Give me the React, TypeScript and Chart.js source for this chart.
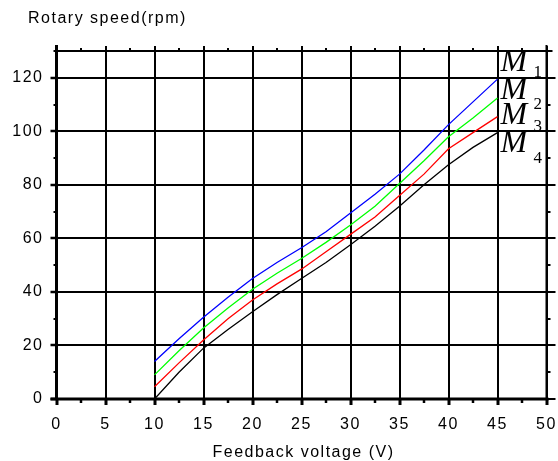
import React, { useEffect, useRef } from "react";
import { Chart, registerables } from "chart.js";

Chart.register(...registerables);

// ---- data ----
const voltage = [10, 12.5, 15, 17.5, 20, 22.5, 25, 27.5, 30, 32.5, 35, 37.5, 40, 42.5, 45];
const speedM1 = [14, 22.5, 30.5, 38, 45, 51, 56.5, 62.5, 69.5, 76.5, 84, 93, 102.5, 111, 119.5];
const speedM2 = [9, 18, 26.5, 34, 41, 47, 52.5, 58.5, 65, 72, 80.5, 89, 98, 105, 112.4];
const speedM3 = [4.6, 13.5, 22, 30, 37, 43, 48.5, 55, 61.5, 68, 76, 84, 93.5, 99.5, 105.5];
const speedM4 = [0, 10, 19, 26, 32.6, 39, 45, 51, 57.6, 64.5, 72, 80, 87.5, 94, 99.5];
const seriesSubs = ["1", "2", "3", "4"];
const seriesColors = ["#0000ff", "#00ff00", "#ff0000", "#000000"];
const labelBaseY = [122.7, 111.9, 102.9, 92.1];
const subBaseY = [120.4, 108.3, 100.1, 88.3];
const xTitle = "Feedback voltage (V)";
const yTitle = "Rotary speed(rpm)";
const xMin = 0, xMax = 50, xStep = 5, xMinor = 2.5;
const yMin = 0, yMax = 130, yStep = 20, yMinor = 10;

const TICK_FONT = "Liberation Sans";

const framePlugin = {
  id: "frame",
  beforeDraw(chart: any) {
    (chart.ctx as any).letterSpacing = "1.5px";
  },
  afterDraw(chart: any) {
    const ctx = chart.ctx as CanvasRenderingContext2D;
    const { left, right, top, bottom } = chart.chartArea;
    const xs = chart.scales.x;
    const ys = chart.scales.y;
    ctx.save();
    ctx.strokeStyle = "#000";
    ctx.fillStyle = "#000";
    // borders
    ctx.lineWidth = 3;
    ctx.beginPath();
    ctx.moveTo(left, top - 6);
    ctx.lineTo(left, bottom + 1.5);
    ctx.moveTo(left - 6, bottom);
    ctx.lineTo(right + 2, bottom);
    ctx.stroke();
    ctx.lineWidth = 2;
    ctx.beginPath();
    ctx.moveTo(left - 1, top);
    ctx.lineTo(right + 6, top);
    ctx.moveTo(right, top - 6);
    ctx.lineTo(right, bottom);
    ctx.stroke();
    // x ticks
    for (let v = xMin; v <= xMax + 1e-9; v += xMinor) {
      const px = Math.round(xs.getPixelForValue(v));
      const major = Math.abs(v / xStep - Math.round(v / xStep)) < 1e-6;
      ctx.lineWidth = major ? 3 : 2.5;
      ctx.beginPath();
      ctx.moveTo(px, bottom);
      ctx.lineTo(px, bottom + (major ? 6 : 4));
      ctx.stroke();
      ctx.lineWidth = 2;
      ctx.beginPath();
      ctx.moveTo(px, top);
      ctx.lineTo(px, top - (major ? 5 : 3));
      ctx.stroke();
    }
    // y ticks
    for (let v = yMin; v <= yMax + 1e-9; v += yMinor) {
      const py = Math.round(ys.getPixelForValue(v));
      const major = Math.abs(v / yStep - Math.round(v / yStep)) < 1e-6;
      ctx.lineWidth = major ? 2.5 : 2;
      ctx.beginPath();
      ctx.moveTo(left, py);
      ctx.lineTo(left - (major ? 6 : 3), py);
      ctx.stroke();
      ctx.lineWidth = 2;
      ctx.beginPath();
      ctx.moveTo(right, py);
      ctx.lineTo(right + (major ? 9 : 4), py);
      ctx.stroke();
    }
    // titles
    ctx.textBaseline = "middle";
    ctx.textAlign = "left";
    (ctx as any).letterSpacing = "1.5px";
    ctx.font = `16px "${TICK_FONT}"`;
    ctx.fillText(yTitle, 28, 19);
    ctx.textAlign = "center";
    ctx.fillText(xTitle, (left + right) / 2 + 2, 453);
    // series labels
    (ctx as any).letterSpacing = "0px";
    ctx.textBaseline = "alphabetic";
    ctx.textAlign = "left";
    const lx = xs.getPixelForValue(voltage[voltage.length - 1]);
    seriesSubs.forEach((s, i) => {
      ctx.font = `italic 32px "Liberation Serif"`;
      ctx.fillText("M", lx + 3, ys.getPixelForValue(labelBaseY[i]));
      ctx.font = `17px "Liberation Serif"`;
      ctx.fillText(s, lx + 36, ys.getPixelForValue(subBaseY[i]));
    });
    ctx.restore();
  },
};

export default function App() {
  const ref = useRef<HTMLCanvasElement>(null);
  useEffect(() => {
    const series = [speedM1, speedM2, speedM3, speedM4];
    const chart = new Chart(ref.current!, {
      type: "line",
      data: {
        datasets: series.map((s, i) => ({
          label: "M" + seriesSubs[i],
          data: voltage.map((x, j) => ({ x, y: s[j] })),
          borderColor: seriesColors[i],
          borderWidth: 1.3,
          pointRadius: 0,
          tension: 0,
          fill: false,
        })),
      },
      options: {
        responsive: false,
        animation: false,
        events: [],
        layout: { padding: { top: 51, right: 11.5, left: 0, bottom: 0 } },
        plugins: { legend: { display: false }, tooltip: { enabled: false }, title: { display: false } },
        scales: {
          x: {
            type: "linear",
            min: xMin,
            max: xMax,
            ticks: {
              stepSize: xStep,
              color: "#000",
              font: { family: TICK_FONT, size: 16 },
              padding: 16,
              maxRotation: 0,
            },
            grid: { color: "#000", lineWidth: 2, drawTicks: false },
            border: { display: false },
            afterFit: (s: any) => {
              s.height = 62;
              s.paddingLeft = 0;
              s.paddingRight = 0;
            },
          },
          y: {
            type: "linear",
            min: yMin,
            max: yMax,
            ticks: {
              stepSize: yStep,
              color: "#000",
              font: { family: TICK_FONT, size: 16 },
              padding: 13,
            },
            afterBuildTicks: (s: any) => {
              s.ticks = s.ticks.filter((t: any) => t.value % yStep === 0);
            },
            grid: { color: "#000", lineWidth: 2, drawTicks: false },
            border: { display: false },
            afterFit: (s: any) => {
              s.width = 56.5;
              s.paddingTop = 0;
              s.paddingBottom = 0;
            },
          },
        },
      },
      plugins: [framePlugin],
    });
    return () => chart.destroy();
  }, []);
  return (
    <div style={{ position: "fixed", left: 0, top: 0, width: 558, height: 461, background: "#fff" }}>
      <canvas ref={ref} width={558} height={461} style={{ width: 558, height: 461 }} />
    </div>
  );
}
